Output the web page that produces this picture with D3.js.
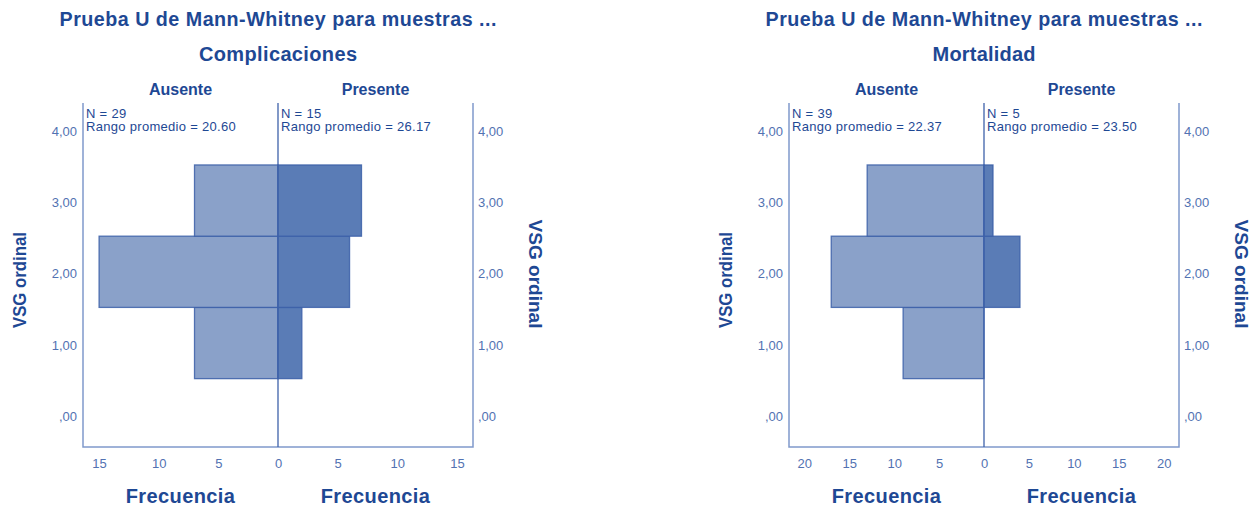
<!DOCTYPE html>
<html>
<head>
<meta charset="utf-8">
<script src="https://cdn.jsdelivr.net/npm/d3@7"></script>
<style>
  html, body { margin: 0; padding: 0; background: #ffffff; }
  svg { display: block; font-family: "Liberation Sans", Arial, sans-serif; }
</style>
</head>
<body>
<svg id="chart" width="1260" height="508"></svg>
<script>
// VSG ordinal levels (bins) and the y-axis ticks
const levels = [1, 2, 3];
const yTicks = [0, 1, 2, 3, 4];
const yTickLabels = [",00", "1,00", "2,00", "3,00", "4,00"];

// Frequencies per level, group "Ausente" / "Presente"
const complicacionesAusente = [7, 15, 7];
const complicacionesPresente = [2, 6, 7];
const mortalidadAusente = [9, 17, 13];
const mortalidadPresente = [0, 4, 1];

// Frequency axis ticks
const complicacionesTicks = [0, 5, 10, 15];
const mortalidadTicks = [0, 5, 10, 15, 20];

// Group summaries
const groupNames = ["Ausente", "Presente"];
const complicacionesN = [29, 15];
const complicacionesRango = ["20.60", "26.17"];
const mortalidadN = [39, 5];
const mortalidadRango = ["22.37", "23.50"];

const titleText = "Prueba U de Mann-Whitney para muestras ...";
const panelTitles = ["Complicaciones", "Mortalidad"];

const C = {
  title: "#1e4894",
  tick: "#5272b2",
  frame: "#8099cb",
  center: "#3e62aa",
  fillA: "#8aa1c9",
  fillP: "#5a7cb6",
  stroke: "#3b5fa8"
};

const svg = d3.select("#chart");

function panel(cx, subtitle, subtitleLen, ausente, presente, maxFreq, ticks, ns, rangos) {
  const half = 195, top = 103, bottom = 447;
  const g = svg.append("g");

  const y = d3.scaleLinear().domain([-0.46, 4.37]).range([bottom, top]);
  const xL = d3.scaleLinear().domain([0, maxFreq]).range([cx, cx - half]);
  const xR = d3.scaleLinear().domain([0, maxFreq]).range([cx, cx + half]);
  const binH = y(0) - y(1);

  // titles
  g.append("text").attr("x", cx).attr("y", 26).attr("text-anchor", "middle")
    .attr("font-size", 19.7).attr("font-weight", "bold").attr("fill", C.title)
    .attr("textLength", 437).text(titleText);
  g.append("text").attr("x", cx).attr("y", 61).attr("text-anchor", "middle")
    .attr("font-size", 20).attr("font-weight", "bold").attr("fill", C.title)
    .attr("textLength", subtitleLen).text(subtitle);
  [[xL, 0], [xR, 1]].forEach(([sc, i]) => {
    g.append("text").attr("x", (sc(0) + sc(maxFreq)) / 2).attr("y", 95)
      .attr("text-anchor", "middle").attr("font-size", 16).attr("font-weight", "bold")
      .attr("fill", C.title).text(groupNames[i]);
  });

  // frame: left axis, bottom axis, right axis
  g.append("path")
    .attr("d", `M${xL(maxFreq)},${top}V${bottom}H${xR(maxFreq)}V${top}`)
    .attr("fill", "none").attr("stroke", C.frame).attr("stroke-width", 1.5);

  // y ticks (left and right)
  const yLeft = d3.axisLeft(y).tickValues(yTicks).tickSize(0).tickPadding(6)
    .tickFormat((d, i) => yTickLabels[i]);
  const yRight = d3.axisRight(y).tickValues(yTicks).tickSize(0).tickPadding(5)
    .tickFormat((d, i) => yTickLabels[i]);
  const gl = g.append("g").attr("transform", `translate(${xL(maxFreq)},2)`).call(yLeft);
  const gr = g.append("g").attr("transform", `translate(${xR(maxFreq)},2)`).call(yRight);
  [gl, gr].forEach(a => {
    a.select(".domain").remove();
    a.selectAll("text").attr("font-size", 13).attr("fill", C.tick)
      .attr("font-family", "'Liberation Sans', Arial, sans-serif");
  });

  // x ticks (mirrored)
  const xa = d3.axisBottom(xL).tickValues(ticks).tickSize(0).tickPadding(12);
  const xb = d3.axisBottom(xR).tickValues(ticks.slice(1)).tickSize(0).tickPadding(12);
  const ga = g.append("g").attr("transform", `translate(0,${bottom})`).call(xa);
  const gb = g.append("g").attr("transform", `translate(0,${bottom})`).call(xb);
  [ga, gb].forEach(a => {
    a.select(".domain").remove();
    a.selectAll("text").attr("font-size", 13).attr("fill", C.tick)
      .attr("font-family", "'Liberation Sans', Arial, sans-serif");
  });

  // bars
  g.append("g").selectAll("rect").data(levels).join("rect")
    .attr("x", (d, i) => xL(ausente[i])).attr("y", d => y(d + 0.5))
    .attr("width", (d, i) => xL(0) - xL(ausente[i])).attr("height", binH)
    .attr("fill", C.fillA).attr("stroke", C.stroke).attr("stroke-opacity", 0.85)
    .attr("stroke-width", 1.3);
  g.append("g").selectAll("rect").data(levels.filter((d, i) => presente[i] > 0)).join("rect")
    .attr("x", xR(0)).attr("y", d => y(d + 0.5))
    .attr("width", d => xR(presente[levels.indexOf(d)]) - xR(0)).attr("height", binH)
    .attr("fill", C.fillP).attr("stroke", C.stroke).attr("stroke-opacity", 0.85)
    .attr("stroke-width", 1.3);

  // center line
  g.append("line").attr("x1", cx).attr("x2", cx).attr("y1", top).attr("y2", bottom)
    .attr("stroke", C.center).attr("stroke-width", 1.3);

  // group summaries
  [[xL(maxFreq), 0], [cx, 1]].forEach(([x0, i]) => {
    const t = g.append("text").attr("font-size", 13).attr("letter-spacing", 0.3)
      .attr("fill", C.title);
    t.append("tspan").attr("x", x0 + 3).attr("y", 118).text(`N = ${ns[i]}`);
    t.append("tspan").attr("x", x0 + 3).attr("y", 131).text(`Rango promedio = ${rangos[i]}`);
  });

  // axis titles
  [[xL, 0], [xR, 1]].forEach(([sc]) => {
    g.append("text").attr("x", (sc(0) + sc(maxFreq)) / 2).attr("y", 503)
      .attr("text-anchor", "middle").attr("font-size", 20).attr("font-weight", "bold")
      .attr("letter-spacing", 0.4).attr("fill", C.title).text("Frecuencia");
  });
  const leftX = xL(maxFreq) - 57, rightX = xR(maxFreq) + 56;
  g.append("text").attr("transform", `translate(${leftX},280) rotate(-90)`)
    .attr("text-anchor", "middle").attr("font-size", 18).attr("font-weight", "bold")
    .attr("fill", C.title).attr("textLength", 96).attr("lengthAdjust", "spacingAndGlyphs")
    .text("VSG ordinal");
  g.append("text").attr("transform", `translate(${rightX},274) rotate(90)`)
    .attr("text-anchor", "middle").attr("font-size", 18).attr("font-weight", "bold")
    .attr("fill", C.title).attr("textLength", 109).attr("lengthAdjust", "spacingAndGlyphs")
    .text("VSG ordinal");
}

panel(278, panelTitles[0], 158, complicacionesAusente, complicacionesPresente, 16.35,
  complicacionesTicks, complicacionesN, complicacionesRango);
panel(984, panelTitles[1], 103, mortalidadAusente, mortalidadPresente, 21.7,
  mortalidadTicks, mortalidadN, mortalidadRango);
</script>
</body>
</html>
